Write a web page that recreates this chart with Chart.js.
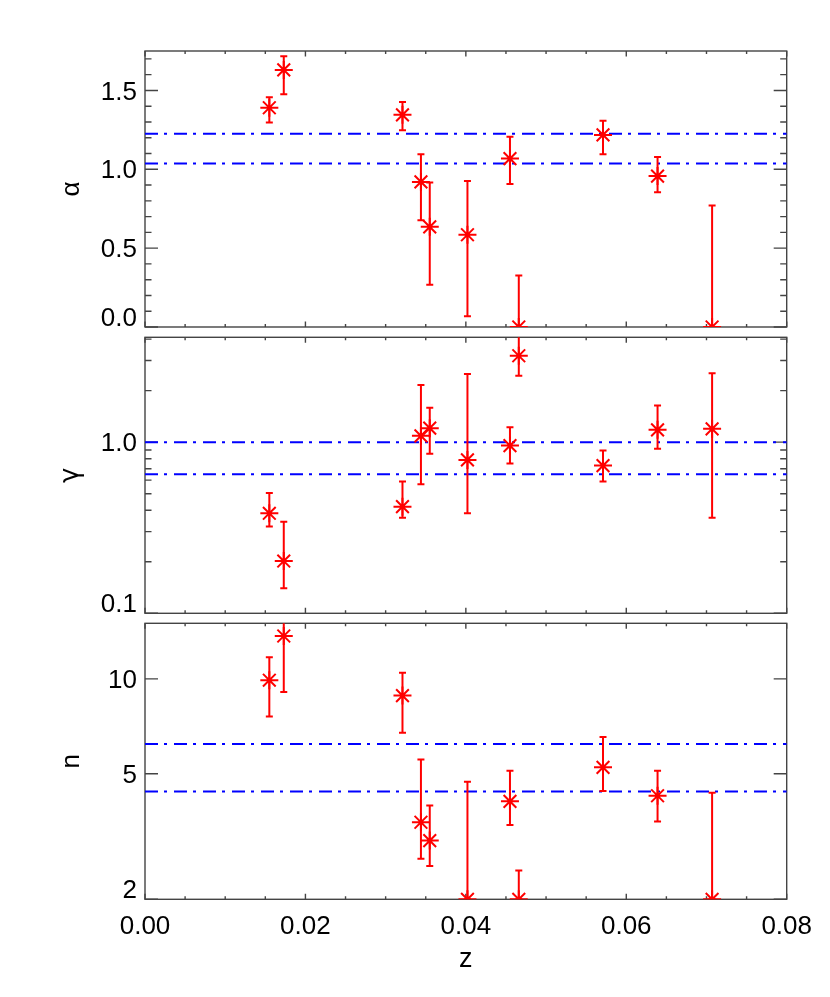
<!DOCTYPE html>
<html>
<head>
<meta charset="utf-8">
<script src="https://cdn.jsdelivr.net/npm/chart.js@4.4.1/dist/chart.umd.min.js"></script>
<style>
    body { margin: 0; background: #fff; }
    #wrap { position: relative; width: 830px; height: 997px; }
    #wrap canvas { position: absolute; left: 0; top: 0; }
</style>
</head>
<body>
<div id="wrap">
    <canvas id="alphaChart" width="830" height="997"></canvas>
    <canvas id="gammaChart" width="830" height="997"></canvas>
    <canvas id="nChart" width="830" height="997"></canvas>
</div>
<script>
// Redshift of each object (shared x values)
const z = [0.0155, 0.0173, 0.0321, 0.0344, 0.0355, 0.0402, 0.0455, 0.0466, 0.0571, 0.0639, 0.0707];

// alpha panel: value, lower and upper end of the error bar
const alpha   = [1.39, 1.63, 1.345, 0.92, 0.635, 0.585, 1.068, 0.0, 1.218, 0.957, 0.0];
const alphaLo = [1.297, 1.475, 1.247, 0.677, 0.268, 0.068, 0.906, 0.0, 1.096, 0.855, 0.0];
const alphaHi = [1.456, 1.717, 1.427, 1.095, 0.916, 0.926, 1.207, 0.327, 1.308, 1.078, 0.77];
const alphaBand = [1.036, 1.226];

// gamma panel (log axis)
const gamma   = [0.384, 0.202, 0.42, 1.089, 1.207, 0.788, 0.955, 3.2, 0.73, 1.18, 1.196];
const gammaLo = [0.321, 0.14, 0.362, 0.568, 0.855, 0.384, 0.75, 2.44, 0.589, 0.914, 0.362];
const gammaHi = [0.505, 0.343, 0.589, 2.16, 1.59, 2.5, 1.223, 5.0, 0.893, 1.64, 2.53];
const gammaBand = [0.65, 1.0];

// n panel (log axis)
const nVal = [9.9, 13.67, 8.85, 3.51, 3.07, 2, 4.09, 2, 5.24, 4.26, 2];
const nLo  = [7.59, 9.09, 6.75, 2.69, 2.55, 2, 3.44, 2, 4.41, 3.53, 2];
const nHi  = [11.7, 17, 10.45, 5.55, 3.97, 4.72, 5.11, 2.47, 6.54, 5.11, 4.35];
const nBand = [4.39, 6.21];

// Tick values and labels
const xTicks = [0, 0.02, 0.04, 0.06, 0.08];
const xMinorTicks = [0.005, 0.01, 0.015, 0.025, 0.03, 0.035, 0.045, 0.05, 0.055, 0.065, 0.07, 0.075];
const alphaTicks = [0, 0.5, 1.0, 1.5];
const alphaMinorTicks = [0.1, 0.2, 0.3, 0.4, 0.6, 0.7, 0.8, 0.9, 1.1, 1.2, 1.3, 1.4, 1.6, 1.7];
const gammaTicks = [0.1, 1.0];
const gammaMinorTicks = [0.2, 0.3, 0.4, 0.5, 0.6, 0.7, 0.8, 0.9, 2, 3, 4];
const nTicks = [2, 5, 10];
const nMinorTicks = [];

Chart.defaults.font.family = "'Liberation Sans', Arial, sans-serif";
Chart.defaults.color = '#000';

// Draws the box round the plot area and the inward tick marks on all four sides
const frameTicks = {
    id: 'frameTicks',
    beforeDatasetsDraw(chart, args, opts) {
        const ctx = chart.ctx;
        const a = chart.chartArea;
        const sx = chart.scales.x;
        const sy = chart.scales.y;
        ctx.save();
        ctx.strokeStyle = '#444';
        ctx.lineWidth = 1.4;
        ctx.strokeRect(a.left, a.top, a.right - a.left, a.bottom - a.top);
        ctx.beginPath();
        function xMarks(vals, len) {
            vals.forEach(function(v) {
                const px = sx.getPixelForValue(v);
                ctx.moveTo(px, a.bottom); ctx.lineTo(px, a.bottom - len);
                ctx.moveTo(px, a.top); ctx.lineTo(px, a.top + len);
            });
        }
        function yMarks(vals, len) {
            vals.forEach(function(v) {
                const py = sy.getPixelForValue(v);
                ctx.moveTo(a.left, py); ctx.lineTo(a.left + len, py);
                ctx.moveTo(a.right, py); ctx.lineTo(a.right - len, py);
            });
        }
        xMarks(xTicks, 5.5);
        xMarks(xMinorTicks, 3);
        yMarks(opts.yMajor, 13);
        yMarks(opts.yMinor, 6.5);
        ctx.stroke();
        ctx.restore();
    }
};

// Vertical error bars with small caps, clipped to the plot area
const errorBars = {
    id: 'errorBars',
    afterDatasetsDraw(chart, args, opts) {
        const ctx = chart.ctx;
        const a = chart.chartArea;
        const sx = chart.scales.x;
        const sy = chart.scales.y;
        ctx.save();
        ctx.beginPath();
        ctx.rect(a.left, a.top, a.right - a.left, a.bottom - a.top);
        ctx.clip();
        ctx.strokeStyle = '#ff0000';
        ctx.lineWidth = 2;
        ctx.beginPath();
        opts.lo.forEach(function(lo, i) {
            const x = sx.getPixelForValue(z[i]);
            const y1 = sy.getPixelForValue(lo);
            const y2 = sy.getPixelForValue(opts.hi[i]);
            ctx.moveTo(x, y1); ctx.lineTo(x, y2);
            ctx.moveTo(x - 3.5, y1); ctx.lineTo(x + 3.5, y1);
            ctx.moveTo(x - 3.5, y2); ctx.lineTo(x + 3.5, y2);
        });
        ctx.stroke();
        ctx.restore();
    }
};

// Lift the lowest y label a little so it sits above the bottom edge
const lowLabelUp = {
    id: 'lowLabelUp',
    beforeDraw(chart) {
        const items = chart.scales.y.getLabelItems();
        const first = items[0];
        if (first && !first.shifted) {
            first.options.translation[1] -= 10.5;
            first.shifted = true;
        }
    }
};

function bandLine(v) {
    return {
        data: [{ x: 0, y: v }, { x: 0.08, y: v }],
        showLine: true,
        borderColor: '#0000ff',
        borderWidth: 2,
        borderDash: [13, 6, 3, 7],
        pointRadius: 0,
        clip: 0
    };
}

function makePanel(id, p) {
    const xAxis = {
        type: 'linear',
        min: 0,
        max: 0.08,
        display: p.showX,
        grid: { display: false, drawTicks: false },
        border: { display: false },
        afterFit: function(s) { if (p.showX) s.height = 997 - 899.3; },
        afterBuildTicks: function(s) { s.ticks = xTicks.map(function(v) { return { value: v }; }); },
        ticks: {
            autoSkip: false,
            maxRotation: 0,
            padding: 12,
            font: { size: 26 },
            callback: function(v) { return v.toFixed(2); }
        },
        title: { display: true, text: 'z', font: { size: 27 }, padding: { top: 0, bottom: 21 } }
    };
    return new Chart(document.getElementById(id), {
        type: 'scatter',
        data: {
            datasets: [
                {
                    data: z.map(function(x, i) { return { x: x, y: p.values[i] }; }),
                    pointStyle: 'star',
                    pointRadius: 9,
                    pointBorderWidth: 2,
                    pointBorderColor: '#ff0000',
                    pointBackgroundColor: '#ff0000',
                    clip: 0
                },
                bandLine(p.band[0]),
                bandLine(p.band[1])
            ]
        },
        options: {
            responsive: false,
            animation: false,
            events: [],
            layout: { padding: { left: 0, right: 43.3, top: p.top, bottom: p.bottom } },
            plugins: {
                legend: { display: false },
                tooltip: { enabled: false },
                frameTicks: { yMajor: p.ticks, yMinor: p.minor },
                errorBars: { lo: p.lo, hi: p.hi }
            },
            scales: {
                x: xAxis,
                y: {
                    type: p.type,
                    min: p.min,
                    max: p.max,
                    grid: { display: false, drawTicks: false },
                    border: { display: false },
                    afterFit: function(s) { s.width = 145; },
                    afterBuildTicks: function(s) { s.ticks = p.ticks.map(function(v) { return { value: v }; }); },
                    ticks: {
                        padding: 8,
                        labelOffset: 2,
                        font: { size: 26 },
                        callback: p.format
                    },
                    title: { display: true, text: p.title, font: { size: 26, family: p.titleFont }, padding: { top: 56, bottom: 0 } }
                }
            }
        },
        plugins: [frameTicks, errorBars, lowLabelUp]
    });
}

// Top panel: alpha
makePanel('alphaChart', {
    values: alpha, lo: alphaLo, hi: alphaHi, band: alphaBand,
    type: 'linear', min: 0, max: 1.75,
    ticks: alphaTicks, minor: alphaMinorTicks,
    format: function(v) { return v.toFixed(1); },
    title: 'α', titleFont: "'Liberation Sans', sans-serif",
    top: 51, bottom: 997 - 327, showX: false
});

// Middle panel: gamma
makePanel('gammaChart', {
    values: gamma, lo: gammaLo, hi: gammaHi, band: gammaBand,
    type: 'logarithmic', min: 0.1, max: 4.1,
    ticks: gammaTicks, minor: gammaMinorTicks,
    format: function(v) { return v.toFixed(1); },
    title: 'γ', titleFont: "'DejaVu Sans', sans-serif",
    top: 337.3, bottom: 997 - 613.3, showX: false
});

// Bottom panel: n, carries the z axis
makePanel('nChart', {
    values: nVal, lo: nLo, hi: nHi, band: nBand,
    type: 'logarithmic', min: 2, max: 15,
    ticks: nTicks, minor: nMinorTicks,
    format: function(v) { return String(v); },
    title: 'n', titleFont: "'Liberation Sans', sans-serif",
    top: 623.3, bottom: 0, showX: true
});
</script>
</body>
</html>
